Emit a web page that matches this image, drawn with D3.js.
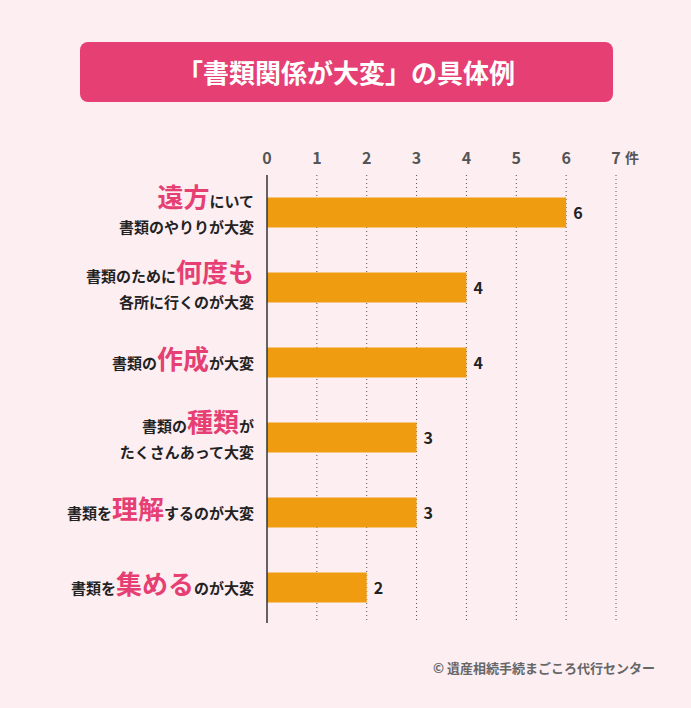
<!DOCTYPE html>
<html><head><meta charset="utf-8">
<script src="https://cdn.jsdelivr.net/npm/d3@7"></script>
<style>
body{margin:0;background:#fdeef2;}
svg{display:block;font-family:"Noto Sans CJK JP","Noto Sans",sans-serif;}
</style></head>
<body><svg id="chart" width="691" height="708"></svg>
<script>
// each label: lines of [text, highlighted?]
var labels = [
	[[["遠方", true], ["にいて", false]], [["書類のやりりが大変", false]]],
	[[["書類のために", false], ["何度も", true]], [["各所に行くのが大変", false]]],
	[[["書類の", false], ["作成", true], ["が大変", false]]],
	[[["書類の", false], ["種類", true], ["が", false]], [["たくさんあって大変", false]]],
	[[["書類を", false], ["理解", true], ["するのが大変", false]]],
	[[["書類を", false], ["集める", true], ["のが大変", false]]]
];
var values = [6, 4, 4, 3, 3, 2];
var ticks = [0, 1, 2, 3, 4, 5, 6, 7];

var svg = d3.select("#chart");
var pink = "#e63f73", bar = "#f09c10";

svg.append("rect").attr("x", 80).attr("y", 42).attr("width", 533).attr("height", 60)
	.attr("rx", 8).attr("fill", pink);
svg.append("text").attr("x", 346).attr("y", 83).attr("text-anchor", "middle")
	.attr("fill", "#fff").attr("font-size", 26).attr("font-weight", "bold")
	.text("「書類関係が大変」の具体例");

var x = d3.scaleLinear().domain([0, 7]).range([267, 616]);
var y = d3.scaleBand().domain(d3.range(values.length)).range([175, 625])
	.paddingInner(0.6).paddingOuter(0.3);

// gridlines
svg.selectAll(".grid").data(ticks.slice(1)).enter().append("line")
	.attr("x1", d => x(d)).attr("x2", d => x(d)).attr("y1", 175).attr("y2", 623)
	.attr("stroke", "#555").attr("stroke-width", 1).attr("stroke-dasharray", "1,3");

svg.selectAll(".tick").data(ticks).enter().append("text")
	.attr("x", d => x(d)).attr("y", 164).attr("text-anchor", "middle")
	.attr("font-size", 16).attr("fill", "#555").attr("font-weight", "bold")
	.text(d => d);
svg.append("text").attr("x", x(7) + 9).attr("y", 163).attr("font-size", 14)
	.attr("fill", "#555").attr("font-weight", "bold").text("件");

svg.selectAll(".bar").data(values).enter().append("rect")
	.attr("x", x(0)).attr("y", (d, i) => y(i)).attr("width", d => x(d) - x(0))
	.attr("height", y.bandwidth()).attr("fill", bar);

svg.selectAll(".val").data(values).enter().append("text")
	.attr("x", d => x(d) + 7).attr("y", (d, i) => y(i) + y.bandwidth() / 2 + 6)
	.attr("font-size", 16).attr("font-weight", "bold").attr("fill", "#222")
	.text(d => d);

svg.append("line").attr("x1", 267).attr("x2", 267).attr("y1", 175).attr("y2", 623)
	.attr("stroke", "#333").attr("stroke-width", 1.5);

labels.forEach(function (lines, i) {
	var cy = y(i) + y.bandwidth() / 2;
	var n = lines.length;
	lines.forEach(function (parts, j) {
		var base = n == 1 ? cy + 6 : (j == 0 ? cy - 6 : cy + 20);
		var t = svg.append("text").attr("x", 254).attr("y", base)
			.attr("text-anchor", "end").attr("font-weight", "bold").attr("fill", "#222");
		parts.forEach(function (p) {
			t.append("tspan").text(p[0])
				.attr("font-size", p[1] ? 26 : 15)
				.attr("fill", p[1] ? pink : "#222");
		});
	});
});

svg.append("text").attr("x", 655).attr("y", 673).attr("text-anchor", "end")
	.attr("font-size", 13).attr("fill", "#666").attr("font-weight", "bold")
	.text("© 遺産相続手続まごころ代行センター");
</script></body></html>
